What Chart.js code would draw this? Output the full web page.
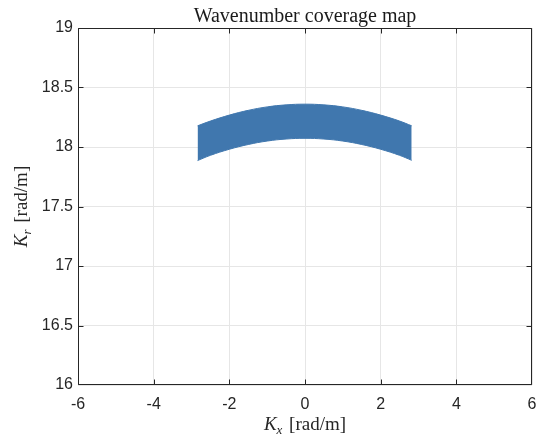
<!DOCTYPE html>
<html>
<head>
<meta charset="utf-8">
<script src="https://cdn.jsdelivr.net/npm/chart.js@4"></script>
<style>
  html, body { margin: 0; padding: 0; background: #fff; }
</style>
</head>
<body>
<canvas id="chart" width="547" height="434"></canvas>
<script>
// values
const kx = [-2.84, -2.5, -2, -1.5, -1, -0.5, 0, 0.5, 1, 1.5, 2, 2.5, 2.82];
const krOuter = [18.178, 18.218, 18.268, 18.308, 18.337, 18.354, 18.36, 18.354, 18.337, 18.308, 18.268, 18.218, 18.178];
const krInner = [17.886, 17.93, 17.981, 18.021, 18.05, 18.067, 18.073, 18.067, 18.05, 18.021, 17.981, 17.93, 17.888];

const xTicks = [-6, -4, -2, 0, 2, 4, 6];
const yTicks = [16, 16.5, 17, 17.5, 18, 18.5, 19];

const titleText = 'Wavenumber coverage map';
const xLabel = ['K', 'x', ' [rad/m]'];
const yLabel = ['K', 'r', ' [rad/m]'];

const bandColor = '#4077ae';
const axisColor = '#262626';
const gridColor = '#e6e6e6';

function pts(ys) {
    return kx.map((x, i) => ({ x: x, y: ys[i] }));
}

// draws label like "K_x [rad/m]" with italic K and a lowered subscript
function drawLabel(ctx, parts, cx, cy, rotate) {
    const fonts = ['italic 19px "Liberation Serif"', 'italic 13px "Liberation Serif"', '19px "Liberation Serif"'];
    const shifts = [0, 4, 0];
    let total = 0;
    const widths = parts.map((p, i) => {
        ctx.font = fonts[i];
        const w = ctx.measureText(p).width + (i === 1 ? 2 : 0);
        total += w;
        return w;
    });
    ctx.save();
    ctx.translate(cx, cy);
    if (rotate) ctx.rotate(-Math.PI / 2);
    ctx.fillStyle = axisColor;
    ctx.textBaseline = 'alphabetic';
    ctx.textAlign = 'left';
    let pos = -total / 2;
    parts.forEach((p, i) => {
        ctx.font = fonts[i];
        ctx.fillText(p, pos, shifts[i]);
        pos += widths[i];
    });
    ctx.restore();
}

const decor = {
    id: 'decor',
    afterDraw(chart) {
        const ctx = chart.ctx;
        const a = chart.chartArea;
        const xs = chart.scales.x;
        const ys = chart.scales.y;
        const L = Math.round(a.left) + 0.5, R = Math.round(a.right) - 0.5;
        const T = Math.round(a.top) + 0.5, B = Math.round(a.bottom) - 0.5;
        ctx.save();
        ctx.strokeStyle = axisColor;
        ctx.lineWidth = 1;
        ctx.beginPath();
        ctx.rect(L, T, R - L, B - T);
        xTicks.forEach(v => {
            const p = Math.min(R, Math.max(L, Math.round(xs.getPixelForValue(v)) + 0.5));
            ctx.moveTo(p, B); ctx.lineTo(p, B - 5);
            ctx.moveTo(p, T); ctx.lineTo(p, T + 5);
        });
        yTicks.forEach(v => {
            const p = Math.min(B, Math.max(T, Math.round(ys.getPixelForValue(v)) + 0.5));
            ctx.moveTo(L, p); ctx.lineTo(L + 5, p);
            ctx.moveTo(R, p); ctx.lineTo(R - 5, p);
        });
        ctx.stroke();

        ctx.fillStyle = '#1a1a1a';
        ctx.font = '20px "Liberation Serif"';
        ctx.textAlign = 'center';
        ctx.textBaseline = 'alphabetic';
        ctx.fillText(titleText, (a.left + a.right) / 2, 22);
        ctx.restore();

        drawLabel(ctx, xLabel, (a.left + a.right) / 2, 430, false);
        drawLabel(ctx, yLabel, 27, (a.top + a.bottom) / 2, true);
    }
};

new Chart(document.getElementById('chart'), {
    type: 'line',
    data: {
        datasets: [
            {
                data: pts(krOuter),
                borderColor: bandColor,
                backgroundColor: bandColor,
                borderWidth: 1,
                pointRadius: 0,
                tension: 0.4,
                fill: '+1'
            },
            {
                data: pts(krInner),
                borderColor: bandColor,
                backgroundColor: bandColor,
                borderWidth: 1,
                pointRadius: 0,
                tension: 0.4,
                fill: false
            }
        ]
    },
    options: {
        responsive: false,
        animation: false,
        layout: { padding: { left: 0, right: 15, top: 28, bottom: 0 } },
        plugins: {
            legend: { display: false },
            tooltip: { enabled: false },
            title: { display: false }
        },
        scales: {
            x: {
                type: 'linear',
                min: -6,
                max: 6,
                afterBuildTicks: s => { s.ticks = xTicks.map(v => ({ value: v })); },
                afterFit: s => { s.height = 49; },
                grid: { color: gridColor, drawTicks: false },
                border: { display: false },
                ticks: {
                    color: axisColor,
                    padding: 10,
                    font: { family: '"Liberation Sans"', size: 16 },
                    callback: v => String(v)
                }
            },
            y: {
                type: 'linear',
                min: 16,
                max: 19,
                afterBuildTicks: s => { s.ticks = yTicks.map(v => ({ value: v })); },
                afterFit: s => { s.width = 78; },
                grid: { color: gridColor, drawTicks: false },
                border: { display: false },
                ticks: {
                    color: axisColor,
                    padding: 5,
                    font: { family: '"Liberation Sans"', size: 16 },
                    callback: v => String(v)
                }
            }
        }
    },
    plugins: [decor]
});
</script>
</body>
</html>
